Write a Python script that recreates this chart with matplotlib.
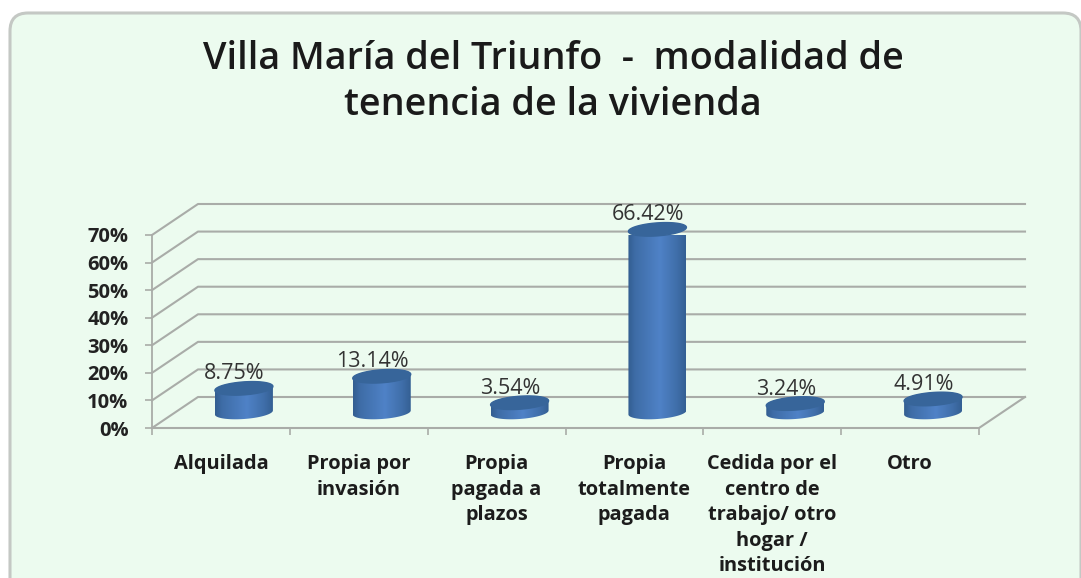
import matplotlib
matplotlib.use('Agg')
import matplotlib.pyplot as plt
from matplotlib.patches import FancyBboxPatch, Polygon
import numpy as np

W, H = 1081, 578

categories = ['Alquilada', 'Propia por\ninvasión', 'Propia\npagada a\nplazos', 'Propia\ntotalmente\npagada',
              'Cedida por el\ncentro de\ntrabajo/ otro\nhogar /\ninstitución', 'Otro']
values = [8.75, 13.14, 3.54, 66.42, 3.24, 4.91]
value_labels = ['8.75%', '13.14%', '3.54%', '66.42%', '3.24%', '4.91%']
y_ticks = [0, 10, 20, 30, 40, 50, 60, 70]
title_lines = ['Villa María del Triunfo  -  modalidad de', 'tenencia de la vivienda']

BG = '#ecfbef'
GRID = '#a9aca8'

# plot box in pixels
LEFT, RIGHT, BOTTOM, TOP = 152, 979, 428, 235
px_x = (RIGHT - LEFT) / len(categories)
px_y = (BOTTOM - TOP) / 70
DX = 46 / px_x
DY = 31 / px_y

fig = plt.figure(figsize=(W / 100, H / 100), dpi=100)
bg = fig.add_axes([0, 0, 1, 1])
bg.set_xlim(0, W)
bg.set_ylim(H, 0)
bg.axis('off')
bg.add_patch(FancyBboxPatch((10, 13), 1071, 700, boxstyle='round,pad=0,rounding_size=1', mutation_scale=18,
                            fc=BG, ec='#c4c8c4', lw=2.2, clip_on=False))
for i, line in enumerate(title_lines):
    bg.text(553, 59 + i * 46, line, ha='center', va='center', fontsize=27.2, family='Open Sans',
            weight='semibold', color='#1a1a1a')

ax = fig.add_axes([LEFT / W, 1 - BOTTOM / H, (RIGHT - LEFT) / W, (BOTTOM - TOP) / H])
ax.set_xlim(0, len(categories))
ax.set_ylim(0, 70)
ax.patch.set_alpha(0)
for s in ax.spines.values():
    s.set_visible(False)

# walls and floor
n = len(categories)
for v in y_ticks:
    ax.plot([0, DX, n + DX], [v, v + DY, v + DY], color=GRID, lw=1.5, clip_on=False, zorder=1)
ax.plot([0, 0], [0, 70], color=GRID, lw=1.3, clip_on=False, zorder=1)
ax.plot([0, n, n + DX], [0, 0, DY], color=GRID, lw=1.5, clip_on=False, zorder=1)

ax.set_yticks(y_ticks)
ax.set_yticklabels([str(v) + '%' for v in y_ticks], family='Open Sans', weight='bold', fontsize=14.5, color='#222222')
ax.set_xticks(range(n + 1))
ax.set_xticklabels([])
ax.tick_params(axis='both', color=GRID, width=1.2, length=5)
ax.tick_params(axis='y', pad=12)

# cylinder shape
A = 29 / px_x
B = 6.5 / px_y
SHEAR = 2 / px_y
t = np.linspace(0, 2 * np.pi, 90)
grad = np.interp(np.linspace(0, 1, 64), [0, 0.12, 0.55, 0.85, 1], [0, 0.4, 1, 0.45, 0.05])
c_dark = np.array([0.20, 0.37, 0.57])
c_light = np.array([0.31, 0.51, 0.78])
shade = (c_dark[None, :] * (1 - grad[:, None]) + c_light[None, :] * grad[:, None])[None, :, :]

for i, v in enumerate(values):
    cx = i + 0.5 + DX / 2
    cy = DY / 2
    bot_x = cx + A * np.cos(t[45:])
    bot_y = cy + B * np.sin(t[45:]) + SHEAR * np.cos(t[45:])
    top_x = cx + A * np.cos(t[:45])
    top_y = cy + v + B * np.sin(t[:45]) + SHEAR * np.cos(t[:45])
    body = Polygon(np.column_stack([np.r_[bot_x, top_x], np.r_[bot_y, top_y]]), transform=ax.transData, fc='none', ec='none')
    ax.add_patch(body)
    body.set_clip_on(False)
    im = ax.imshow(shade, extent=[cx - A, cx + A, cy - B - SHEAR, cy + v + B + SHEAR], aspect='auto', zorder=3)
    im.set_clip_path(body)
    lid_x = cx + A * np.cos(t)
    lid_y = cy + v + B * np.sin(t) + SHEAR * np.cos(t)
    ax.fill(lid_x, lid_y, color='#37659a', zorder=4, clip_on=False)
    ax.text(cx - 9.5 / px_x, cy + v + 14.5 / px_y, value_labels[i], ha='center', va='center', fontsize=15.5, family='Open Sans',
            color='#333333', zorder=5, clip_on=False)
ax.set_xlim(0, n)
ax.set_ylim(0, 70)

for i, c in enumerate(categories):
    ax.annotate(c, (i + 0.5, 0), xytext=(0, -26), textcoords='offset pixels', ha='center', va='top', fontsize=14.4,
                family='Open Sans', weight='bold', color='#1c1c1c', linespacing=1.37, annotation_clip=False)

fig.savefig('out.png', dpi=100)
